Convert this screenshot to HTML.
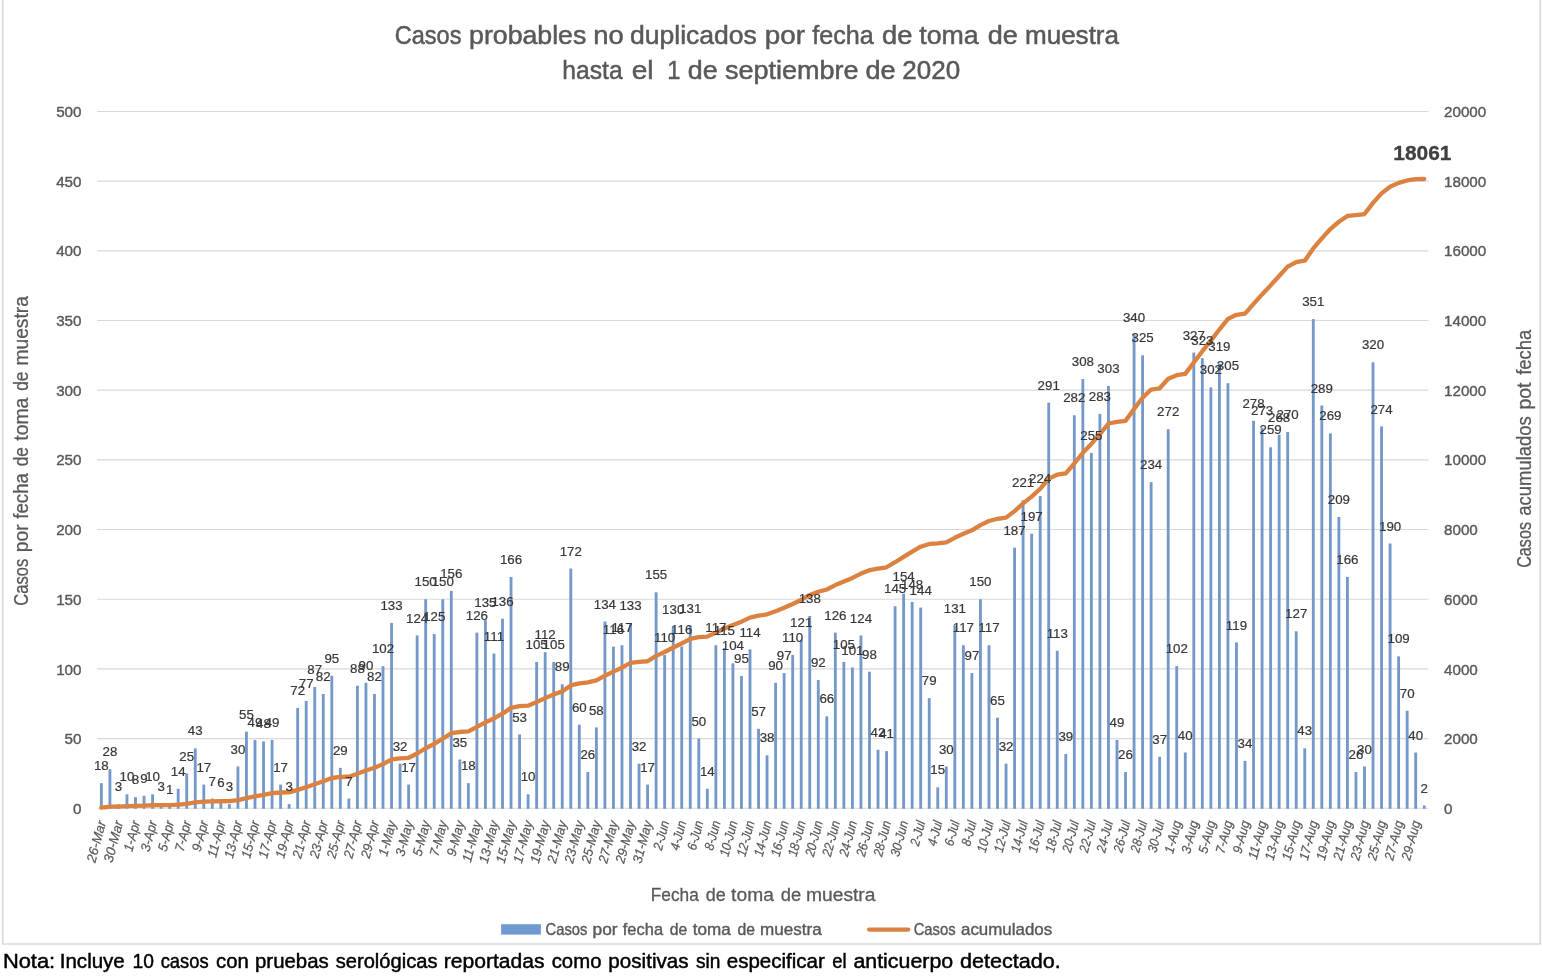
<!DOCTYPE html><html><head><meta charset="utf-8"><title>Casos probables</title>
<style>html,body{margin:0;padding:0;background:#fff}svg{display:block;will-change:transform}text{font-family:"Liberation Sans",sans-serif}</style></head><body>
<svg width="1542" height="978" viewBox="0 0 1542 978">
<rect x="0" y="0" width="1542" height="978" fill="#ffffff"/>
<path d="M2.7 -5 V944 H1540.2 V-5" fill="none" stroke="#dadada" stroke-width="1.7"/>
<g stroke="#d8d8d8" stroke-width="1.15">
<line x1="97.1" y1="808.27" x2="1428.5" y2="808.27"/>
<line x1="97.1" y1="738.59" x2="1428.5" y2="738.59"/>
<line x1="97.1" y1="668.91" x2="1428.5" y2="668.91"/>
<line x1="97.1" y1="599.22" x2="1428.5" y2="599.22"/>
<line x1="97.1" y1="529.54" x2="1428.5" y2="529.54"/>
<line x1="97.1" y1="459.86" x2="1428.5" y2="459.86"/>
<line x1="97.1" y1="390.18" x2="1428.5" y2="390.18"/>
<line x1="97.1" y1="320.50" x2="1428.5" y2="320.50"/>
<line x1="97.1" y1="250.81" x2="1428.5" y2="250.81"/>
<line x1="97.1" y1="181.13" x2="1428.5" y2="181.13"/>
<line x1="97.1" y1="111.45" x2="1428.5" y2="111.45"/>
</g>
<g fill="#7598ca">
<rect x="99.94" y="783.18" width="2.85" height="25.59"/>
<rect x="108.48" y="769.25" width="2.85" height="39.52"/>
<rect x="117.01" y="804.09" width="2.85" height="4.68"/>
<rect x="125.55" y="794.33" width="2.85" height="14.44"/>
<rect x="134.08" y="797.12" width="2.85" height="11.65"/>
<rect x="142.62" y="795.73" width="2.85" height="13.04"/>
<rect x="151.15" y="794.33" width="2.85" height="14.44"/>
<rect x="159.68" y="804.09" width="2.85" height="4.68"/>
<rect x="168.22" y="806.88" width="2.85" height="1.89"/>
<rect x="176.75" y="788.76" width="2.85" height="20.01"/>
<rect x="185.29" y="773.43" width="2.85" height="35.34"/>
<rect x="193.82" y="748.34" width="2.85" height="60.43"/>
<rect x="202.36" y="784.58" width="2.85" height="24.19"/>
<rect x="210.89" y="798.51" width="2.85" height="10.26"/>
<rect x="219.43" y="799.91" width="2.85" height="8.86"/>
<rect x="227.96" y="804.09" width="2.85" height="4.68"/>
<rect x="236.50" y="766.46" width="2.85" height="42.31"/>
<rect x="245.03" y="731.62" width="2.85" height="77.15"/>
<rect x="253.57" y="739.98" width="2.85" height="68.79"/>
<rect x="262.10" y="741.38" width="2.85" height="67.39"/>
<rect x="270.63" y="739.98" width="2.85" height="68.79"/>
<rect x="279.17" y="784.58" width="2.85" height="24.19"/>
<rect x="287.70" y="804.09" width="2.85" height="4.68"/>
<rect x="296.24" y="707.93" width="2.85" height="100.84"/>
<rect x="304.77" y="700.96" width="2.85" height="107.81"/>
<rect x="313.31" y="687.02" width="2.85" height="121.75"/>
<rect x="321.84" y="693.99" width="2.85" height="114.78"/>
<rect x="330.38" y="675.87" width="2.85" height="132.90"/>
<rect x="338.91" y="767.85" width="2.85" height="40.92"/>
<rect x="347.45" y="798.51" width="2.85" height="10.26"/>
<rect x="355.98" y="685.63" width="2.85" height="123.14"/>
<rect x="364.52" y="682.84" width="2.85" height="125.93"/>
<rect x="373.05" y="693.99" width="2.85" height="114.78"/>
<rect x="381.58" y="666.12" width="2.85" height="142.65"/>
<rect x="390.12" y="622.92" width="2.85" height="185.85"/>
<rect x="398.65" y="763.67" width="2.85" height="45.10"/>
<rect x="407.19" y="784.58" width="2.85" height="24.19"/>
<rect x="415.72" y="635.46" width="2.85" height="173.31"/>
<rect x="424.26" y="599.22" width="2.85" height="209.55"/>
<rect x="432.79" y="634.07" width="2.85" height="174.70"/>
<rect x="441.33" y="599.22" width="2.85" height="209.55"/>
<rect x="449.86" y="590.86" width="2.85" height="217.91"/>
<rect x="458.40" y="759.49" width="2.85" height="49.28"/>
<rect x="466.93" y="783.18" width="2.85" height="25.59"/>
<rect x="475.47" y="632.67" width="2.85" height="176.10"/>
<rect x="484.00" y="620.13" width="2.85" height="188.64"/>
<rect x="492.53" y="653.58" width="2.85" height="155.19"/>
<rect x="501.07" y="618.73" width="2.85" height="190.04"/>
<rect x="509.60" y="576.93" width="2.85" height="231.84"/>
<rect x="518.14" y="734.41" width="2.85" height="74.36"/>
<rect x="526.67" y="794.33" width="2.85" height="14.44"/>
<rect x="535.21" y="661.94" width="2.85" height="146.83"/>
<rect x="543.74" y="652.18" width="2.85" height="156.59"/>
<rect x="552.28" y="661.94" width="2.85" height="146.83"/>
<rect x="560.81" y="684.24" width="2.85" height="124.53"/>
<rect x="569.35" y="568.56" width="2.85" height="240.21"/>
<rect x="577.88" y="724.65" width="2.85" height="84.12"/>
<rect x="586.42" y="772.04" width="2.85" height="36.73"/>
<rect x="594.95" y="727.44" width="2.85" height="81.33"/>
<rect x="603.48" y="621.52" width="2.85" height="187.25"/>
<rect x="612.02" y="646.61" width="2.85" height="162.16"/>
<rect x="620.55" y="645.21" width="2.85" height="163.56"/>
<rect x="629.09" y="622.92" width="2.85" height="185.85"/>
<rect x="637.62" y="763.67" width="2.85" height="45.10"/>
<rect x="646.16" y="784.58" width="2.85" height="24.19"/>
<rect x="654.69" y="592.26" width="2.85" height="216.51"/>
<rect x="663.23" y="654.97" width="2.85" height="153.80"/>
<rect x="671.76" y="627.10" width="2.85" height="181.67"/>
<rect x="680.30" y="646.61" width="2.85" height="162.16"/>
<rect x="688.83" y="625.70" width="2.85" height="183.07"/>
<rect x="697.37" y="738.59" width="2.85" height="70.18"/>
<rect x="705.90" y="788.76" width="2.85" height="20.01"/>
<rect x="714.43" y="645.21" width="2.85" height="163.56"/>
<rect x="722.97" y="648.00" width="2.85" height="160.77"/>
<rect x="731.50" y="663.33" width="2.85" height="145.44"/>
<rect x="740.04" y="675.87" width="2.85" height="132.90"/>
<rect x="748.57" y="649.40" width="2.85" height="159.37"/>
<rect x="757.11" y="728.83" width="2.85" height="79.94"/>
<rect x="765.64" y="755.31" width="2.85" height="53.46"/>
<rect x="774.18" y="682.84" width="2.85" height="125.93"/>
<rect x="782.71" y="673.09" width="2.85" height="135.68"/>
<rect x="791.25" y="654.97" width="2.85" height="153.80"/>
<rect x="799.78" y="639.64" width="2.85" height="169.13"/>
<rect x="808.32" y="615.95" width="2.85" height="192.82"/>
<rect x="816.85" y="680.06" width="2.85" height="128.71"/>
<rect x="825.38" y="716.29" width="2.85" height="92.48"/>
<rect x="833.92" y="632.67" width="2.85" height="176.10"/>
<rect x="842.45" y="661.94" width="2.85" height="146.83"/>
<rect x="850.99" y="667.51" width="2.85" height="141.26"/>
<rect x="859.52" y="635.46" width="2.85" height="173.31"/>
<rect x="868.06" y="671.69" width="2.85" height="137.08"/>
<rect x="876.59" y="749.74" width="2.85" height="59.03"/>
<rect x="885.13" y="751.13" width="2.85" height="57.64"/>
<rect x="893.66" y="606.19" width="2.85" height="202.58"/>
<rect x="902.20" y="593.65" width="2.85" height="215.12"/>
<rect x="910.73" y="602.01" width="2.85" height="206.76"/>
<rect x="919.27" y="607.59" width="2.85" height="201.18"/>
<rect x="927.80" y="698.17" width="2.85" height="110.60"/>
<rect x="936.33" y="787.37" width="2.85" height="21.40"/>
<rect x="944.87" y="766.46" width="2.85" height="42.31"/>
<rect x="953.40" y="625.70" width="2.85" height="183.07"/>
<rect x="961.94" y="645.21" width="2.85" height="163.56"/>
<rect x="970.47" y="673.09" width="2.85" height="135.68"/>
<rect x="979.01" y="599.22" width="2.85" height="209.55"/>
<rect x="987.54" y="645.21" width="2.85" height="163.56"/>
<rect x="996.08" y="717.68" width="2.85" height="91.09"/>
<rect x="1004.61" y="763.67" width="2.85" height="45.10"/>
<rect x="1013.15" y="547.66" width="2.85" height="261.11"/>
<rect x="1021.68" y="500.28" width="2.85" height="308.49"/>
<rect x="1030.22" y="533.72" width="2.85" height="275.05"/>
<rect x="1038.75" y="496.09" width="2.85" height="312.68"/>
<rect x="1047.28" y="402.72" width="2.85" height="406.05"/>
<rect x="1055.82" y="650.79" width="2.85" height="157.98"/>
<rect x="1064.35" y="753.92" width="2.85" height="54.85"/>
<rect x="1072.89" y="415.26" width="2.85" height="393.51"/>
<rect x="1081.42" y="379.03" width="2.85" height="429.74"/>
<rect x="1089.96" y="452.89" width="2.85" height="355.88"/>
<rect x="1098.49" y="413.87" width="2.85" height="394.90"/>
<rect x="1107.03" y="386.00" width="2.85" height="422.77"/>
<rect x="1115.56" y="739.98" width="2.85" height="68.79"/>
<rect x="1124.10" y="772.04" width="2.85" height="36.73"/>
<rect x="1132.63" y="334.43" width="2.85" height="474.34"/>
<rect x="1141.17" y="355.34" width="2.85" height="453.43"/>
<rect x="1149.70" y="482.16" width="2.85" height="326.61"/>
<rect x="1158.23" y="756.71" width="2.85" height="52.06"/>
<rect x="1166.77" y="429.20" width="2.85" height="379.57"/>
<rect x="1175.30" y="666.12" width="2.85" height="142.65"/>
<rect x="1183.84" y="752.52" width="2.85" height="56.25"/>
<rect x="1192.37" y="352.55" width="2.85" height="456.22"/>
<rect x="1200.91" y="358.12" width="2.85" height="450.65"/>
<rect x="1209.44" y="387.39" width="2.85" height="421.38"/>
<rect x="1217.98" y="363.70" width="2.85" height="445.07"/>
<rect x="1226.51" y="383.21" width="2.85" height="425.56"/>
<rect x="1235.05" y="642.43" width="2.85" height="166.34"/>
<rect x="1243.58" y="760.89" width="2.85" height="47.88"/>
<rect x="1252.12" y="420.84" width="2.85" height="387.93"/>
<rect x="1260.65" y="427.81" width="2.85" height="380.96"/>
<rect x="1269.18" y="447.32" width="2.85" height="361.45"/>
<rect x="1277.72" y="434.77" width="2.85" height="374.00"/>
<rect x="1286.25" y="431.99" width="2.85" height="376.78"/>
<rect x="1294.79" y="631.28" width="2.85" height="177.49"/>
<rect x="1303.32" y="748.34" width="2.85" height="60.43"/>
<rect x="1311.86" y="319.10" width="2.85" height="489.67"/>
<rect x="1320.39" y="405.51" width="2.85" height="403.26"/>
<rect x="1328.93" y="433.38" width="2.85" height="375.39"/>
<rect x="1337.46" y="517.00" width="2.85" height="291.77"/>
<rect x="1346.00" y="576.93" width="2.85" height="231.84"/>
<rect x="1354.53" y="772.04" width="2.85" height="36.73"/>
<rect x="1363.07" y="766.46" width="2.85" height="42.31"/>
<rect x="1371.60" y="362.31" width="2.85" height="446.46"/>
<rect x="1380.13" y="426.41" width="2.85" height="382.36"/>
<rect x="1388.67" y="543.48" width="2.85" height="265.29"/>
<rect x="1397.20" y="656.36" width="2.85" height="152.41"/>
<rect x="1405.74" y="710.72" width="2.85" height="98.05"/>
<rect x="1414.27" y="752.52" width="2.85" height="56.25"/>
<rect x="1422.81" y="805.48" width="2.85" height="3.29"/>
</g>
<polyline points="101.37,807.64 109.90,806.67 118.44,806.56 126.97,806.21 135.51,805.94 144.04,805.62 152.57,805.27 161.11,805.17 169.64,805.13 178.18,804.65 186.71,803.78 195.25,802.28 203.78,801.69 212.32,801.44 220.85,801.23 229.39,801.13 237.92,800.08 246.46,798.17 254.99,796.46 263.52,794.79 272.06,793.08 280.59,792.49 289.13,792.38 297.66,789.87 306.20,787.19 314.73,784.16 323.27,781.30 331.80,777.99 340.34,776.98 348.87,776.74 357.41,773.67 365.94,770.54 374.48,767.68 383.01,764.13 391.54,759.49 400.08,758.38 408.61,757.79 417.15,753.47 425.68,748.24 434.22,743.88 442.75,738.66 451.29,733.22 459.82,732.00 468.36,731.38 476.89,726.99 485.43,722.28 493.96,718.42 502.49,713.68 511.03,707.89 519.56,706.05 528.10,705.70 536.63,702.04 545.17,698.14 553.70,694.48 562.24,691.38 570.77,685.39 579.31,683.30 587.84,682.39 596.38,680.37 604.91,675.70 613.44,671.66 621.98,667.58 630.51,662.95 639.05,661.83 647.58,661.24 656.12,655.84 664.65,652.01 673.19,647.48 681.72,643.44 690.26,638.87 698.79,637.13 707.33,636.64 715.86,632.57 724.39,628.56 732.93,624.94 741.46,621.63 750.00,617.65 758.53,615.67 767.07,614.34 775.60,611.21 784.14,607.83 792.67,604.00 801.21,599.78 809.74,594.97 818.28,591.77 826.81,589.47 835.34,585.08 843.88,581.42 852.41,577.90 860.95,573.58 869.48,570.17 878.02,568.70 886.55,567.27 895.09,562.22 903.62,556.86 912.16,551.70 920.69,546.68 929.23,543.93 937.76,543.41 946.29,542.36 954.83,537.80 963.36,533.72 971.90,530.34 980.43,525.12 988.97,521.04 997.50,518.78 1006.04,517.66 1014.57,511.15 1023.11,503.45 1031.64,496.58 1040.17,488.78 1048.71,478.64 1057.24,474.70 1065.78,473.34 1074.31,463.52 1082.85,452.79 1091.38,443.90 1099.92,434.04 1108.45,423.49 1116.99,421.78 1125.52,420.87 1134.06,409.03 1142.59,397.70 1151.12,389.55 1159.66,388.26 1168.19,378.78 1176.73,375.23 1185.26,373.84 1193.80,362.44 1202.33,351.19 1210.87,340.67 1219.40,329.55 1227.94,318.93 1236.47,314.78 1245.01,313.60 1253.54,303.91 1262.08,294.40 1270.61,285.38 1279.14,276.04 1287.68,266.63 1296.21,262.21 1304.75,260.71 1313.28,248.48 1321.82,238.41 1330.35,229.04 1338.89,221.76 1347.42,215.97 1355.96,215.07 1364.49,214.02 1373.03,202.87 1381.56,193.33 1390.09,186.71 1398.63,182.91 1407.16,180.47 1415.70,179.08 1424.23,179.01" fill="none" stroke="#dc8240" stroke-width="4.3" stroke-linejoin="round" stroke-linecap="round"/>
<g fill="#383838" stroke="#383838" stroke-width="0.22" font-size="13.3" text-anchor="middle">
<text x="101.37" y="770.28">18</text>
<text x="109.90" y="756.35">28</text>
<text x="118.44" y="791.19">3</text>
<text x="126.97" y="781.43">10</text>
<text x="135.51" y="784.22">8</text>
<text x="144.04" y="782.83">9</text>
<text x="152.57" y="781.43">10</text>
<text x="161.11" y="791.19">3</text>
<text x="169.64" y="793.98">1</text>
<text x="178.18" y="775.86">14</text>
<text x="186.71" y="760.53">25</text>
<text x="195.25" y="735.44">43</text>
<text x="203.78" y="771.68">17</text>
<text x="212.32" y="785.61">7</text>
<text x="220.85" y="787.01">6</text>
<text x="229.39" y="791.19">3</text>
<text x="237.92" y="753.56">30</text>
<text x="246.46" y="718.72">55</text>
<text x="254.99" y="727.08">49</text>
<text x="263.52" y="728.48">48</text>
<text x="272.06" y="727.08">49</text>
<text x="280.59" y="771.68">17</text>
<text x="289.13" y="791.19">3</text>
<text x="297.66" y="695.03">72</text>
<text x="306.20" y="688.06">77</text>
<text x="314.73" y="674.12">87</text>
<text x="323.27" y="681.09">82</text>
<text x="331.80" y="662.97">95</text>
<text x="340.34" y="754.95">29</text>
<text x="348.87" y="785.61">7</text>
<text x="357.41" y="672.73">88</text>
<text x="365.94" y="669.94">90</text>
<text x="374.48" y="681.09">82</text>
<text x="383.01" y="653.22">102</text>
<text x="391.54" y="610.02">133</text>
<text x="400.08" y="750.77">32</text>
<text x="408.61" y="771.68">17</text>
<text x="417.15" y="622.56">124</text>
<text x="425.68" y="586.32">150</text>
<text x="434.22" y="621.17">125</text>
<text x="442.75" y="586.32">150</text>
<text x="451.29" y="577.96">156</text>
<text x="459.82" y="746.59">35</text>
<text x="468.36" y="770.28">18</text>
<text x="476.89" y="619.77">126</text>
<text x="485.43" y="607.23">135</text>
<text x="493.96" y="640.68">111</text>
<text x="502.49" y="605.83">136</text>
<text x="511.03" y="564.03">166</text>
<text x="519.56" y="721.51">53</text>
<text x="528.10" y="781.43">10</text>
<text x="536.63" y="649.04">105</text>
<text x="545.17" y="639.28">112</text>
<text x="553.70" y="649.04">105</text>
<text x="562.24" y="671.34">89</text>
<text x="570.77" y="555.66">172</text>
<text x="579.31" y="711.75">60</text>
<text x="587.84" y="759.14">26</text>
<text x="596.38" y="714.54">58</text>
<text x="604.91" y="608.62">134</text>
<text x="613.44" y="633.71">116</text>
<text x="621.98" y="632.31">117</text>
<text x="630.51" y="610.02">133</text>
<text x="639.05" y="750.77">32</text>
<text x="647.58" y="771.68">17</text>
<text x="656.12" y="579.36">155</text>
<text x="664.65" y="642.07">110</text>
<text x="673.19" y="614.20">130</text>
<text x="681.72" y="633.71">116</text>
<text x="690.26" y="612.80">131</text>
<text x="698.79" y="725.69">50</text>
<text x="707.33" y="775.86">14</text>
<text x="715.86" y="632.31">117</text>
<text x="724.39" y="635.10">115</text>
<text x="732.93" y="650.43">104</text>
<text x="741.46" y="662.97">95</text>
<text x="750.00" y="636.50">114</text>
<text x="758.53" y="715.93">57</text>
<text x="767.07" y="742.41">38</text>
<text x="775.60" y="669.94">90</text>
<text x="784.14" y="660.19">97</text>
<text x="792.67" y="642.07">110</text>
<text x="801.21" y="626.74">121</text>
<text x="809.74" y="603.05">138</text>
<text x="818.28" y="667.16">92</text>
<text x="826.81" y="703.39">66</text>
<text x="835.34" y="619.77">126</text>
<text x="843.88" y="649.04">105</text>
<text x="852.41" y="654.61">101</text>
<text x="860.95" y="622.56">124</text>
<text x="869.48" y="658.79">98</text>
<text x="878.02" y="736.84">42</text>
<text x="886.55" y="738.23">41</text>
<text x="895.09" y="593.29">145</text>
<text x="903.62" y="580.75">154</text>
<text x="912.16" y="589.11">148</text>
<text x="920.69" y="594.69">144</text>
<text x="929.23" y="685.27">79</text>
<text x="937.76" y="774.47">15</text>
<text x="946.29" y="753.56">30</text>
<text x="954.83" y="612.80">131</text>
<text x="963.36" y="632.31">117</text>
<text x="971.90" y="660.19">97</text>
<text x="980.43" y="586.32">150</text>
<text x="988.97" y="632.31">117</text>
<text x="997.50" y="704.78">65</text>
<text x="1006.04" y="750.77">32</text>
<text x="1014.57" y="534.76">187</text>
<text x="1023.11" y="487.38">221</text>
<text x="1031.64" y="520.82">197</text>
<text x="1040.17" y="483.19">224</text>
<text x="1048.71" y="389.82">291</text>
<text x="1057.24" y="637.89">113</text>
<text x="1065.78" y="741.02">39</text>
<text x="1074.31" y="402.36">282</text>
<text x="1082.85" y="366.13">308</text>
<text x="1091.38" y="439.99">255</text>
<text x="1099.92" y="400.97">283</text>
<text x="1108.45" y="373.10">303</text>
<text x="1116.99" y="727.08">49</text>
<text x="1125.52" y="759.14">26</text>
<text x="1134.06" y="321.53">340</text>
<text x="1142.59" y="342.44">325</text>
<text x="1151.12" y="469.26">234</text>
<text x="1159.66" y="743.81">37</text>
<text x="1168.19" y="416.30">272</text>
<text x="1176.73" y="653.22">102</text>
<text x="1185.26" y="739.62">40</text>
<text x="1193.80" y="339.65">327</text>
<text x="1202.33" y="345.22">323</text>
<text x="1210.87" y="374.49">302</text>
<text x="1219.40" y="350.80">319</text>
<text x="1227.94" y="370.31">305</text>
<text x="1236.47" y="629.53">119</text>
<text x="1245.01" y="747.99">34</text>
<text x="1253.54" y="407.94">278</text>
<text x="1262.08" y="414.91">273</text>
<text x="1270.61" y="434.42">259</text>
<text x="1279.14" y="421.87">268</text>
<text x="1287.68" y="419.09">270</text>
<text x="1296.21" y="618.38">127</text>
<text x="1304.75" y="735.44">43</text>
<text x="1313.28" y="306.20">351</text>
<text x="1321.82" y="392.61">289</text>
<text x="1330.35" y="420.48">269</text>
<text x="1338.89" y="504.10">209</text>
<text x="1347.42" y="564.03">166</text>
<text x="1355.96" y="759.14">26</text>
<text x="1364.49" y="753.56">30</text>
<text x="1373.03" y="349.41">320</text>
<text x="1381.56" y="413.51">274</text>
<text x="1390.09" y="530.58">190</text>
<text x="1398.63" y="643.46">109</text>
<text x="1407.16" y="697.82">70</text>
<text x="1415.70" y="739.62">40</text>
<text x="1424.23" y="792.58">2</text>
</g>
<text x="1422.4" y="159.9" font-size="20.9" font-weight="bold" fill="#404040" stroke="#404040" stroke-width="0.3" text-anchor="middle">18061</text>
<g fill="#595959" stroke="#595959" stroke-width="0.4" font-size="15.2" text-anchor="end">
<text x="81.5" y="813.87">0</text>
<text x="81.5" y="744.19">50</text>
<text x="81.5" y="674.51">100</text>
<text x="81.5" y="604.82">150</text>
<text x="81.5" y="535.14">200</text>
<text x="81.5" y="465.46">250</text>
<text x="81.5" y="395.78">300</text>
<text x="81.5" y="326.10">350</text>
<text x="81.5" y="256.41">400</text>
<text x="81.5" y="186.73">450</text>
<text x="81.5" y="117.05">500</text>
</g>
<g fill="#595959" stroke="#595959" stroke-width="0.4" font-size="15.2" text-anchor="start">
<text x="1444.0" y="813.87">0</text>
<text x="1444.0" y="744.19">2000</text>
<text x="1444.0" y="674.51">4000</text>
<text x="1444.0" y="604.82">6000</text>
<text x="1444.0" y="535.14">8000</text>
<text x="1444.0" y="465.46">10000</text>
<text x="1444.0" y="395.78">12000</text>
<text x="1444.0" y="326.10">14000</text>
<text x="1444.0" y="256.41">16000</text>
<text x="1444.0" y="186.73">18000</text>
<text x="1444.0" y="117.05">20000</text>
</g>
<g fill="#595959" stroke="#595959" stroke-width="0.22" font-size="13.4" font-style="italic" text-anchor="end">
<text transform="translate(102.87 821.3) rotate(-75) scale(1.0 1)" x="0" y="3.4">26-Mar</text>
<text transform="translate(119.94 821.3) rotate(-75) scale(1.0 1)" x="0" y="3.4">30-Mar</text>
<text transform="translate(137.01 821.3) rotate(-75) scale(0.95 1)" x="0" y="3.4">1-Apr</text>
<text transform="translate(154.07 821.3) rotate(-75) scale(0.95 1)" x="0" y="3.4">3-Apr</text>
<text transform="translate(171.14 821.3) rotate(-75) scale(0.95 1)" x="0" y="3.4">5-Apr</text>
<text transform="translate(188.21 821.3) rotate(-75) scale(0.95 1)" x="0" y="3.4">7-Apr</text>
<text transform="translate(205.28 821.3) rotate(-75) scale(0.95 1)" x="0" y="3.4">9-Apr</text>
<text transform="translate(222.35 821.3) rotate(-75) scale(0.95 1)" x="0" y="3.4">11-Apr</text>
<text transform="translate(239.42 821.3) rotate(-75) scale(0.95 1)" x="0" y="3.4">13-Apr</text>
<text transform="translate(256.49 821.3) rotate(-75) scale(0.95 1)" x="0" y="3.4">15-Apr</text>
<text transform="translate(273.56 821.3) rotate(-75) scale(0.95 1)" x="0" y="3.4">17-Apr</text>
<text transform="translate(290.63 821.3) rotate(-75) scale(0.95 1)" x="0" y="3.4">19-Apr</text>
<text transform="translate(307.70 821.3) rotate(-75) scale(0.95 1)" x="0" y="3.4">21-Apr</text>
<text transform="translate(324.77 821.3) rotate(-75) scale(0.95 1)" x="0" y="3.4">23-Apr</text>
<text transform="translate(341.84 821.3) rotate(-75) scale(0.95 1)" x="0" y="3.4">25-Apr</text>
<text transform="translate(358.91 821.3) rotate(-75) scale(0.95 1)" x="0" y="3.4">27-Apr</text>
<text transform="translate(375.98 821.3) rotate(-75) scale(0.95 1)" x="0" y="3.4">29-Apr</text>
<text transform="translate(393.04 821.3) rotate(-75) scale(0.97 1)" x="0" y="3.4">1-May</text>
<text transform="translate(410.11 821.3) rotate(-75) scale(0.97 1)" x="0" y="3.4">3-May</text>
<text transform="translate(427.18 821.3) rotate(-75) scale(0.97 1)" x="0" y="3.4">5-May</text>
<text transform="translate(444.25 821.3) rotate(-75) scale(0.97 1)" x="0" y="3.4">7-May</text>
<text transform="translate(461.32 821.3) rotate(-75) scale(0.97 1)" x="0" y="3.4">9-May</text>
<text transform="translate(478.39 821.3) rotate(-75) scale(0.97 1)" x="0" y="3.4">11-May</text>
<text transform="translate(495.46 821.3) rotate(-75) scale(0.97 1)" x="0" y="3.4">13-May</text>
<text transform="translate(512.53 821.3) rotate(-75) scale(0.97 1)" x="0" y="3.4">15-May</text>
<text transform="translate(529.60 821.3) rotate(-75) scale(0.97 1)" x="0" y="3.4">17-May</text>
<text transform="translate(546.67 821.3) rotate(-75) scale(0.97 1)" x="0" y="3.4">19-May</text>
<text transform="translate(563.74 821.3) rotate(-75) scale(0.97 1)" x="0" y="3.4">21-May</text>
<text transform="translate(580.81 821.3) rotate(-75) scale(0.97 1)" x="0" y="3.4">23-May</text>
<text transform="translate(597.88 821.3) rotate(-75) scale(0.97 1)" x="0" y="3.4">25-May</text>
<text transform="translate(614.94 821.3) rotate(-75) scale(0.97 1)" x="0" y="3.4">27-May</text>
<text transform="translate(632.01 821.3) rotate(-75) scale(0.97 1)" x="0" y="3.4">29-May</text>
<text transform="translate(649.08 821.3) rotate(-75) scale(0.97 1)" x="0" y="3.4">31-May</text>
<text transform="translate(666.15 821.3) rotate(-75) scale(0.89 1)" x="0" y="3.4">2-Jun</text>
<text transform="translate(683.22 821.3) rotate(-75) scale(0.89 1)" x="0" y="3.4">4-Jun</text>
<text transform="translate(700.29 821.3) rotate(-75) scale(0.89 1)" x="0" y="3.4">6-Jun</text>
<text transform="translate(717.36 821.3) rotate(-75) scale(0.89 1)" x="0" y="3.4">8-Jun</text>
<text transform="translate(734.43 821.3) rotate(-75) scale(0.89 1)" x="0" y="3.4">10-Jun</text>
<text transform="translate(751.50 821.3) rotate(-75) scale(0.89 1)" x="0" y="3.4">12-Jun</text>
<text transform="translate(768.57 821.3) rotate(-75) scale(0.89 1)" x="0" y="3.4">14-Jun</text>
<text transform="translate(785.64 821.3) rotate(-75) scale(0.89 1)" x="0" y="3.4">16-Jun</text>
<text transform="translate(802.71 821.3) rotate(-75) scale(0.89 1)" x="0" y="3.4">18-Jun</text>
<text transform="translate(819.78 821.3) rotate(-75) scale(0.89 1)" x="0" y="3.4">20-Jun</text>
<text transform="translate(836.84 821.3) rotate(-75) scale(0.89 1)" x="0" y="3.4">22-Jun</text>
<text transform="translate(853.91 821.3) rotate(-75) scale(0.89 1)" x="0" y="3.4">24-Jun</text>
<text transform="translate(870.98 821.3) rotate(-75) scale(0.89 1)" x="0" y="3.4">26-Jun</text>
<text transform="translate(888.05 821.3) rotate(-75) scale(0.89 1)" x="0" y="3.4">28-Jun</text>
<text transform="translate(905.12 821.3) rotate(-75) scale(0.89 1)" x="0" y="3.4">30-Jun</text>
<text transform="translate(922.19 821.3) rotate(-75) scale(0.88 1)" x="0" y="3.4">2-Jul</text>
<text transform="translate(939.26 821.3) rotate(-75) scale(0.88 1)" x="0" y="3.4">4-Jul</text>
<text transform="translate(956.33 821.3) rotate(-75) scale(0.88 1)" x="0" y="3.4">6-Jul</text>
<text transform="translate(973.40 821.3) rotate(-75) scale(0.88 1)" x="0" y="3.4">8-Jul</text>
<text transform="translate(990.47 821.3) rotate(-75) scale(0.88 1)" x="0" y="3.4">10-Jul</text>
<text transform="translate(1007.54 821.3) rotate(-75) scale(0.88 1)" x="0" y="3.4">12-Jul</text>
<text transform="translate(1024.61 821.3) rotate(-75) scale(0.88 1)" x="0" y="3.4">14-Jul</text>
<text transform="translate(1041.67 821.3) rotate(-75) scale(0.88 1)" x="0" y="3.4">16-Jul</text>
<text transform="translate(1058.74 821.3) rotate(-75) scale(0.88 1)" x="0" y="3.4">18-Jul</text>
<text transform="translate(1075.81 821.3) rotate(-75) scale(0.88 1)" x="0" y="3.4">20-Jul</text>
<text transform="translate(1092.88 821.3) rotate(-75) scale(0.88 1)" x="0" y="3.4">22-Jul</text>
<text transform="translate(1109.95 821.3) rotate(-75) scale(0.88 1)" x="0" y="3.4">24-Jul</text>
<text transform="translate(1127.02 821.3) rotate(-75) scale(0.88 1)" x="0" y="3.4">26-Jul</text>
<text transform="translate(1144.09 821.3) rotate(-75) scale(0.88 1)" x="0" y="3.4">28-Jul</text>
<text transform="translate(1161.16 821.3) rotate(-75) scale(0.88 1)" x="0" y="3.4">30-Jul</text>
<text transform="translate(1178.23 821.3) rotate(-75) scale(0.93 1)" x="0" y="3.4">1-Aug</text>
<text transform="translate(1195.30 821.3) rotate(-75) scale(0.93 1)" x="0" y="3.4">3-Aug</text>
<text transform="translate(1212.37 821.3) rotate(-75) scale(0.93 1)" x="0" y="3.4">5-Aug</text>
<text transform="translate(1229.44 821.3) rotate(-75) scale(0.93 1)" x="0" y="3.4">7-Aug</text>
<text transform="translate(1246.51 821.3) rotate(-75) scale(0.93 1)" x="0" y="3.4">9-Aug</text>
<text transform="translate(1263.58 821.3) rotate(-75) scale(0.93 1)" x="0" y="3.4">11-Aug</text>
<text transform="translate(1280.64 821.3) rotate(-75) scale(0.93 1)" x="0" y="3.4">13-Aug</text>
<text transform="translate(1297.71 821.3) rotate(-75) scale(0.93 1)" x="0" y="3.4">15-Aug</text>
<text transform="translate(1314.78 821.3) rotate(-75) scale(0.93 1)" x="0" y="3.4">17-Aug</text>
<text transform="translate(1331.85 821.3) rotate(-75) scale(0.93 1)" x="0" y="3.4">19-Aug</text>
<text transform="translate(1348.92 821.3) rotate(-75) scale(0.93 1)" x="0" y="3.4">21-Aug</text>
<text transform="translate(1365.99 821.3) rotate(-75) scale(0.93 1)" x="0" y="3.4">23-Aug</text>
<text transform="translate(1383.06 821.3) rotate(-75) scale(0.93 1)" x="0" y="3.4">25-Aug</text>
<text transform="translate(1400.13 821.3) rotate(-75) scale(0.93 1)" x="0" y="3.4">27-Aug</text>
<text transform="translate(1417.20 821.3) rotate(-75) scale(0.93 1)" x="0" y="3.4">29-Aug</text>
</g>
<g fill="#595959" stroke="#595959" stroke-width="0.5" font-size="25.4">
<text transform="translate(394.67 43.8) scale(0.9278 1)">Casos</text>
<text transform="translate(469.05 43.8) scale(1.0517 1)">probables</text>
<text transform="translate(593.22 43.8) scale(1.0767 1)">no</text>
<text transform="translate(629.95 43.8) scale(1.0459 1)">duplicados</text>
<text transform="translate(764.70 43.8) scale(1.0954 1)">por</text>
<text transform="translate(812.20 43.8) scale(0.9906 1)">fecha</text>
<text transform="translate(882.12 43.8) scale(1.0758 1)">de</text>
<text transform="translate(919.20 43.8) scale(1.0536 1)">toma</text>
<text transform="translate(987.84 43.8) scale(1.0643 1)">de</text>
<text transform="translate(1024.97 43.8) scale(1.0251 1)">muestra</text>
</g>
<g fill="#595959" stroke="#595959" stroke-width="0.5" font-size="25.4">
<text transform="translate(562.33 78.9) scale(0.9711 1)">hasta</text>
<text transform="translate(631.70 78.9) scale(1.1039 1)">el</text>
<text transform="translate(667.17 78.9) scale(0.9333 1)">1</text>
<text transform="translate(687.74 78.9) scale(1.0566 1)">de</text>
<text transform="translate(724.90 78.9) scale(1.0644 1)">septiembre</text>
<text transform="translate(865.43 78.9) scale(1.0681 1)">de</text>
<text transform="translate(902.37 78.9) scale(1.0260 1)">2020</text>
</g>
<g fill="#595959" stroke="#595959" stroke-width="0.28" font-size="19.6">
<text transform="translate(28.1 604.8) rotate(-90) translate(-0.84 0) scale(0.8434 1)">Casos</text>
<text transform="translate(28.1 604.8) rotate(-90) translate(52.55 0) scale(0.9830 1)">por</text>
<text transform="translate(28.1 604.8) rotate(-90) translate(86.09 0) scale(0.9519 1)">fecha</text>
<text transform="translate(28.1 604.8) rotate(-90) translate(138.51 0) scale(0.8811 1)">de</text>
<text transform="translate(28.1 604.8) rotate(-90) translate(164.05 0) scale(0.9910 1)">toma</text>
<text transform="translate(28.1 604.8) rotate(-90) translate(214.01 0) scale(0.8811 1)">de</text>
<text transform="translate(28.1 604.8) rotate(-90) translate(239.23 0) scale(0.9814 1)">muestra</text>
</g>
<g fill="#595959" stroke="#595959" stroke-width="0.28" font-size="19.6">
<text transform="translate(1531.3 567.0) rotate(-90) translate(-0.83 0) scale(0.8257 1)">Casos</text>
<text transform="translate(1531.3 567.0) rotate(-90) translate(51.30 0) scale(0.9419 1)">acumulados</text>
<text transform="translate(1531.3 567.0) rotate(-90) translate(157.41 0) scale(0.9928 1)">pot</text>
<text transform="translate(1531.3 567.0) rotate(-90) translate(192.20 0) scale(0.9410 1)">fecha</text>
</g>
<g fill="#595959" stroke="#595959" stroke-width="0.3" font-size="19.1">
<text transform="translate(650.79 900.7) scale(0.9057 1)">Fecha</text>
<text transform="translate(705.70 900.7) scale(0.9409 1)">de</text>
<text transform="translate(731.10 900.7) scale(1.0063 1)">toma</text>
<text transform="translate(780.70 900.7) scale(0.9603 1)">de</text>
<text transform="translate(805.99 900.7) scale(1.0080 1)">muestra</text>
</g>
<rect x="501.1" y="924.2" width="39.8" height="10.4" fill="#7099d2"/>
<g fill="#595959" stroke="#595959" stroke-width="0.4" font-size="16.6">
<text transform="translate(545.60 934.7) scale(0.8858 1)">Casos</text>
<text transform="translate(592.56 934.7) scale(1.0445 1)">por</text>
<text transform="translate(622.80 934.7) scale(0.9912 1)">fecha</text>
<text transform="translate(669.80 934.7) scale(0.9491 1)">de</text>
<text transform="translate(692.70 934.7) scale(1.0302 1)">toma</text>
<text transform="translate(737.50 934.7) scale(0.9491 1)">de</text>
<text transform="translate(759.97 934.7) scale(1.0299 1)">muestra</text>
</g>
<line x1="869.1" y1="929.6" x2="908.2" y2="929.6" stroke="#dc8240" stroke-width="4.3" stroke-linecap="round"/>
<g fill="#595959" stroke="#595959" stroke-width="0.4" font-size="16.6">
<text transform="translate(913.70 934.7) scale(0.8901 1)">Casos</text>
<text transform="translate(961.00 934.7) scale(1.0182 1)">acumulados</text>
</g>
<g fill="#000000" stroke="#000000" stroke-width="0.45" font-size="19.6">
<text transform="translate(2.88 967.7) scale(1.1174 1)">Nota:</text>
<text transform="translate(59.75 967.7) scale(1.0476 1)">Incluye</text>
<text transform="translate(132.52 967.7) scale(0.9810 1)">10</text>
<text transform="translate(160.70 967.7) scale(0.9360 1)">casos</text>
<text transform="translate(216.10 967.7) scale(1.0360 1)">con</text>
<text transform="translate(254.96 967.7) scale(1.0427 1)">pruebas</text>
<text transform="translate(335.70 967.7) scale(1.0281 1)">serológicas</text>
<text transform="translate(443.82 967.7) scale(1.0756 1)">reportadas</text>
<text transform="translate(551.70 967.7) scale(1.0392 1)">como</text>
<text transform="translate(608.35 967.7) scale(1.0526 1)">positivas</text>
<text transform="translate(696.00 967.7) scale(0.9772 1)">sin</text>
<text transform="translate(726.80 967.7) scale(1.0464 1)">especificar</text>
<text transform="translate(832.20 967.7) scale(0.9398 1)">el</text>
<text transform="translate(853.40 967.7) scale(1.0906 1)">anticuerpo</text>
<text transform="translate(960.00 967.7) scale(1.1025 1)">detectado.</text>
</g>
</svg></body></html>
